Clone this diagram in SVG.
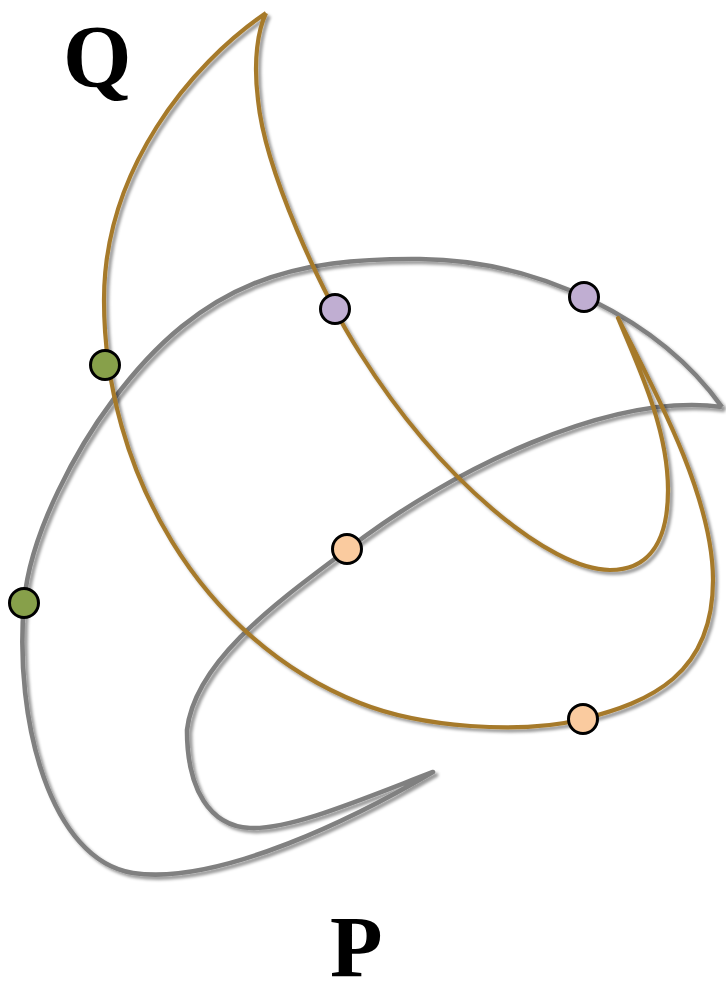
<svg xmlns="http://www.w3.org/2000/svg" width="726" height="996" viewBox="0 0 726 996">
<defs>
<filter id="sh" x="-10%" y="-10%" width="120%" height="120%">
<feDropShadow dx="3" dy="3" stdDeviation="1.6" flood-color="#000" flood-opacity="0.4"/>
</filter>
<style>
.curve{fill:none;stroke-linejoin:round;filter:url(#sh)}
.q{stroke:#A67A2C;stroke-width:4.2}
.p{stroke:#808080;stroke-width:4.6}
.pt{stroke:#000;stroke-width:3}
.green{fill:#87A04A}
.purple{fill:#C0AED2}
.peach{fill:#FACB9F}
.lbl{font-family:"Liberation Serif","DejaVu Serif",serif;font-weight:bold;fill:#000}
</style>
</defs>
<rect width="726" height="996" fill="#fff"/>
<g id="connectors">
<path id="curveP" class="curve p" d="M722,407 C660,320 540,260 420,259 C296,258 204,278 113,400 C80,444 30,530 24,603 C14,720 50,860 133,873 C220,886 360,815 433,772 C360,800 290,830 250,828 C210,826 187,790 187,730 C195,660 280,600 348,549 C450,470 610,392 722,407"/>
<path id="curveQ" class="curve q" d="M266,13 C190,65 104,170 104,300 C104,470 200,640 360,703 C420,727 520,735 583,719 C650,702 713,675 713,580 C713,500 660,400 618,318 C640,370 668,430 668,490 C668,540 650,570 610,570 C550,570 440,480 360,353 C320,290 265,170 258,100 C253,60 258,30 266,13"/>
</g>
<g id="pointG1"><circle class="pt green" cx="105" cy="365" r="14.5"/></g>
<g id="pointG2"><circle class="pt green" cx="24" cy="603" r="14.5"/></g>
<g id="pointU1"><circle class="pt purple" cx="335" cy="309" r="14.5"/></g>
<g id="pointU2"><circle class="pt purple" cx="584" cy="297" r="14.5"/></g>
<g id="pointO1"><circle class="pt peach" cx="347" cy="549" r="14.5"/></g>
<g id="pointO2"><circle class="pt peach" cx="583" cy="719" r="14.5"/></g>
<g id="labelQ"><text class="lbl" x="63" y="86" font-size="88">Q</text></g>
<g id="labelP"><text class="lbl" x="330" y="976" font-size="86">P</text></g>
</svg>
